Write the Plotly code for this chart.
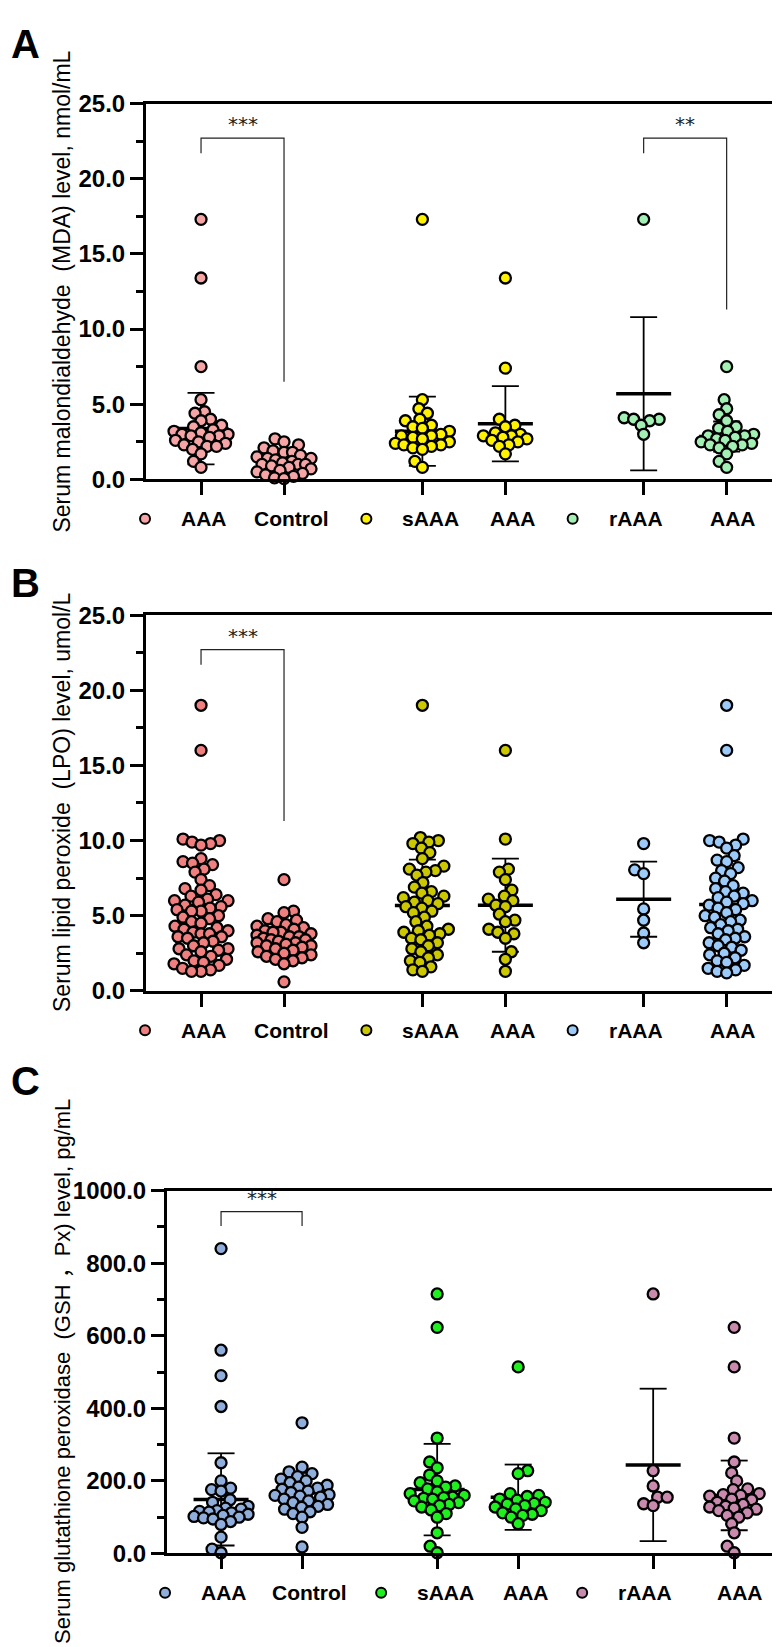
import math
import plotly.graph_objects as go

W, H = 780, 1647

# ---------------- data ----------------
groups = ["AAA", "Control", "sAAA", "AAA", "rAAA", "AAA"]

A_AAA = [17.3, 13.4, 7.5, 5.3, 4.5, 4.4, 4.0, 3.9, 3.6, 3.5, 3.3, 3.2, 3.1, 3.0, 3.0,
         2.9, 2.9, 2.8, 2.6, 2.5, 2.4, 2.3, 2.2, 2.2, 2.0, 1.7, 1.2, 0.8]
A_Control = [2.7, 2.5, 2.3, 2.1, 1.9, 1.8, 1.8, 1.6, 1.5, 1.4, 1.4, 1.3, 1.2, 1.1, 1.0,
             1.0, 1.0, 0.9, 0.8, 0.7, 0.6, 0.5, 0.4, 0.3, 0.2, 0.1, 0.05]
A_sAAA = [17.3, 5.3, 4.7, 4.4, 4.0, 3.9, 3.6, 3.5, 3.4, 3.2, 3.0, 2.9, 2.9, 2.8, 2.7,
          2.5, 2.4, 2.3, 2.3, 2.2, 2.1, 2.0, 1.2, 0.8]
A_sAAA_ref = [13.4, 7.4, 4.0, 3.6, 3.5, 3.1, 3.0, 2.9, 2.9, 2.8, 2.7, 2.6, 2.5, 2.3, 2.2, 1.7]
A_rAAA = [17.3, 4.1, 4.0, 4.0, 3.9, 3.6, 3.0]
A_rAAA_ref = [7.5, 5.3, 4.7, 4.3, 3.9, 3.5, 3.4, 3.2, 3.0, 2.9, 2.9, 2.8, 2.7, 2.6, 2.5,
              2.4, 2.3, 2.3, 2.2, 2.1, 1.7, 1.2, 0.8]
A_means = [3.38, 1.1, 3.2, 3.7, 5.7, 2.85]
A_sds = [2.38, 0.75, 2.3, 2.5, 5.1, 1.0]

B_AAA = [19.0, 16.0, 10.1, 10.0, 9.9, 9.8, 9.7, 8.8, 8.6, 8.5, 8.4, 8.1, 7.9, 7.4, 7.0,
         6.8, 6.7, 6.4, 6.3, 6.1, 6.0, 6.0, 5.9, 5.7, 5.6, 5.5, 5.4, 5.3, 5.3, 5.0, 4.9,
         4.8, 4.6, 4.5, 4.3, 4.2, 4.1, 4.0, 3.9, 3.8, 3.8, 3.6, 3.6, 3.5, 3.3, 3.2, 3.0,
         2.8, 2.8, 2.7, 2.6, 2.4, 2.3, 2.1, 2.0, 1.9, 1.8, 1.7, 1.5, 1.4, 1.3, 1.3]
B_Control = [7.4, 5.3, 5.2, 4.8, 4.7, 4.6, 4.4, 4.3, 4.2, 4.1, 4.0, 3.9, 3.9, 3.8, 3.7,
             3.6, 3.6, 3.5, 3.4, 3.4, 3.3, 3.2, 3.2, 3.1, 3.0, 3.0, 2.9, 2.8, 2.7, 2.6,
             2.5, 2.4, 2.3, 2.2, 2.1, 2.0, 1.8, 0.6]
B_sAAA = [19.0, 10.2, 10.0, 9.9, 9.8, 9.5, 9.2, 8.8, 8.3, 8.1, 8.0, 7.9, 7.7, 7.2, 6.9,
          6.6, 6.5, 6.3, 6.2, 6.0, 5.9, 5.8, 5.6, 5.5, 5.3, 5.2, 4.9, 4.6, 4.3, 4.1, 4.0,
          3.9, 3.8, 3.7, 3.5, 3.4, 3.2, 3.0, 2.8, 2.6, 2.4, 2.2, 2.0, 1.9, 1.6, 1.4, 1.3]
B_sAAA_ref = [16.0, 10.1, 8.1, 7.9, 7.4, 6.7, 6.3, 6.1, 6.0, 5.7, 5.6, 5.1, 4.7, 4.6, 4.1,
              3.9, 3.8, 3.5, 2.6, 2.1, 1.3]
B_rAAA = [9.8, 8.05, 7.8, 5.45, 4.7, 3.85, 3.2]
B_rAAA_ref = [19.0, 16.0, 10.1, 10.0, 9.9, 9.7, 9.5, 9.0, 8.7, 8.6, 8.2, 8.0, 7.8, 7.5,
              7.3, 7.0, 6.8, 6.6, 6.5, 6.3, 6.2, 6.0, 5.9, 5.8, 5.7, 5.5, 5.4, 5.2, 5.0,
              4.9, 4.7, 4.6, 4.4, 4.2, 4.1, 4.0, 3.8, 3.6, 3.5, 3.4, 3.2, 3.0, 2.9, 2.7,
              2.5, 2.4, 2.2, 2.0, 1.9, 1.7, 1.5, 1.4, 1.3, 1.2]
B_means = [5.68, 3.3, 5.68, 5.7, 6.1, 5.75]
B_sds = [2.6, 1.1, 3.05, 3.1, 2.5, 3.0]

C_AAA = [840, 560, 490, 405, 250, 200, 180, 176, 172, 148, 141, 130, 125, 122, 118, 116,
         114, 112, 108, 105, 102, 100, 98, 95, 88, 80, 45, 12, 2]
C_Control = [360, 238, 225, 220, 212, 205, 200, 195, 188, 183, 180, 177, 172, 168, 162,
             160, 158, 155, 150, 145, 140, 135, 130, 127, 122, 115, 110, 100, 72, 18]
C_sAAA = [715, 623, 318, 252, 236, 216, 200, 195, 186, 183, 178, 170, 165, 160, 155, 154,
          152, 150, 145, 140, 135, 132, 128, 120, 110, 100, 57, 20, 2]
C_sAAA_ref = [514, 228, 220, 165, 160, 157, 150, 147, 141, 138, 136, 132, 128, 123, 118,
              112, 108, 105, 100, 82]
C_rAAA = [715, 228, 186, 155, 155, 137, 132]
C_rAAA_ref = [623, 514, 318, 252, 222, 200, 178, 176, 165, 162, 160, 158, 150, 148, 141,
              135, 130, 128, 125, 122, 118, 112, 105, 100, 82, 57, 20, 2]
C_means = [149, 167, 176, 155, 244, 160]
C_sds = [127, 55, 126, 90, 210, 96]

# significance brackets: (group i, group j, top, left foot, right foot, label)
A_sig = [(0, 1, 22.7, 21.7, 6.5, "***"), (4, 5, 22.7, 21.7, 11.3, "**")]
B_sig = [(0, 1, 22.7, 21.7, 11.3, "***")]
C_sig = [(0, 1, 942, 902, 902, "***")]

titles = ["Serum malondialdehyde  (MDA) level, nmol/mL",
          "Serum lipid peroxide  (LPO) level, umol/L",
          "Serum glutathione peroxidase  (GSH ，Px) level, pg/mL"]
y_ticks = [[0, 5, 10, 15, 20, 25], [0, 5, 10, 15, 20, 25], [0, 200, 400, 600, 800, 1000]]

# ---------------- layout constants ----------------
POS = [0, 1, 2.667, 3.667, 5.333, 6.333]
panels = [
    dict(letter="A", data=[A_AAA, A_Control, A_sAAA, A_sAAA_ref, A_rAAA, A_rAAA_ref],
         means=A_means, sds=A_sds, sig=A_sig, title=titles[0], ticks=y_ticks[0],
         colors=["#F5A5A5", "#F5A5A5", "#FFF200", "#FFF200", "#A3F0B5", "#A3F0B5"],
         left=138, right=775, top=83, bottom=465, xr=[-0.663, 7.012], yr=[0, 25],
         minor=2.5, letter_y=22, title_size=23),
    dict(letter="B", data=[B_AAA, B_Control, B_sAAA, B_sAAA_ref, B_rAAA, B_rAAA_ref],
         means=B_means, sds=B_sds, sig=B_sig, title=titles[1], ticks=y_ticks[1],
         colors=["#F08080", "#F08080", "#CCC800", "#CCC800", "#9CCBFA", "#9CCBFA"],
         left=138, right=775, top=603, bottom=985, xr=[-0.663, 7.012], yr=[0, 25],
         minor=2.5, letter_y=570, title_size=23),
    dict(letter="C", data=[C_AAA, C_Control, C_sAAA, C_sAAA_ref, C_rAAA, C_rAAA_ref],
         means=C_means, sds=C_sds, sig=C_sig, title=titles[2], ticks=y_ticks[2],
         colors=["#8FAEDC", "#8FAEDC", "#1EF01E", "#1EF01E", "#C98AAE", "#C98AAE"],
         left=159, right=777, top=1188, bottom=1557, xr=[-0.667, 6.96], yr=[0, 1000],
         minor=100, letter_y=1077, title_size=22),
]
LABEL_SHIFT = [3, 7, 8, 8, -8, 6]
LEGEND_SHIFT = [(0, -56), (2, -56), (4, -71)]


def xp(px):
    return px / W


def yp(py):
    return 1 - py / H


def beeswarm(vals, px_per_y, min_dist=9.5, maxw=27.0):
    """Pixel offsets for a capped beeswarm; overlap is allowed once the cap is hit."""
    order = sorted(range(len(vals)), key=lambda i: vals[i])
    placed = []
    xs = [0.0] * len(vals)
    grid = [k * 0.5 for k in range(int(-2 * maxw), int(2 * maxw) + 1)]
    for k, i in enumerate(order):
        y = vals[i] * px_per_y
        near = [(xj, yj) for (xj, yj) in placed if abs(y - yj) < min_dist]
        sgn = 1 if k % 2 else -1

        def mind(c):
            if not near:
                return 1e9
            return min(math.hypot(c - xj, y - yj) for (xj, yj) in near)

        ok = [c for c in grid if mind(c) >= min_dist]
        if ok:
            best = min(ok, key=lambda c: (abs(c), sgn * c))
        else:
            best = max(grid, key=lambda c: (round(mind(c), 3), -abs(c)))
        xs[i] = best
        placed.append((best, y))
    return xs


fig = go.Figure()
layout = dict(width=W, height=H, margin=dict(l=0, r=0, t=0, b=0),
              paper_bgcolor="white", plot_bgcolor="white", showlegend=False)
annotations = []
shapes = []

for n, p in enumerate(panels):
    sfx = "" if n == 0 else str(n + 1)
    xa, ya = "x" + sfx, "y" + sfx
    unit = (p["right"] - p["left"]) / (p["xr"][1] - p["xr"][0])
    pxy = (p["bottom"] - p["top"]) / (p["yr"][1] - p["yr"][0])

    layout["xaxis" + sfx] = dict(
        domain=[xp(p["left"]), xp(p["right"])], range=p["xr"], anchor=ya,
        tickvals=POS, showticklabels=False, ticks="outside", ticklen=13, tickwidth=3,
        tickcolor="black", showline=True, linewidth=3, linecolor="black", mirror=True,
        showgrid=False, zeroline=False, fixedrange=True)
    layout["yaxis" + sfx] = dict(
        domain=[yp(p["bottom"]), yp(p["top"])], range=p["yr"], anchor=xa,
        tickvals=p["ticks"], tickformat=".1f", ticks="outside", ticklen=13, tickwidth=3,
        tickcolor="black", showline=True, linewidth=3, linecolor="black", mirror=True,
        showgrid=False, zeroline=False, fixedrange=True,
        tickfont=dict(family="Liberation Sans", size=24, color="black", weight="bold"),
        minor=dict(dtick=p["minor"], ticks="outside", ticklen=7, tickwidth=2.5,
                   tickcolor="black", showgrid=False))

    # error bars (mean +- SD), drawn under the dots
    mx, my, sx, sy = [], [], [], []
    hw_m, hw_c = 27.5 / unit, 13.5 / unit
    for g in range(6):
        m, s, x0 = p["means"][g], p["sds"][g], POS[g]
        mx += [x0 - hw_m, x0 + hw_m, None]
        my += [m, m, None]
        lo, hi = max(m - s, 0), m + s
        sx += [x0, x0, None, x0 - hw_c, x0 + hw_c, None, x0 - hw_c, x0 + hw_c, None]
        sy += [lo, hi, None, hi, hi, None, lo, lo, None]
    fig.add_trace(go.Scatter(x=sx, y=sy, mode="lines", xaxis=xa, yaxis=ya,
                             line=dict(color="black", width=1.8), hoverinfo="skip",
                             cliponaxis=False))
    fig.add_trace(go.Scatter(x=mx, y=my, mode="lines", xaxis=xa, yaxis=ya,
                             line=dict(color="black", width=3.5), hoverinfo="skip",
                             cliponaxis=False))

    # dots
    for g in range(6):
        vals = p["data"][g]
        offs = beeswarm(vals, pxy)
        fig.add_trace(go.Scatter(
            x=[POS[g] + o / unit for o in offs], y=vals, mode="markers",
            xaxis=xa, yaxis=ya, cliponaxis=False, name=groups[g],
            marker=dict(size=11, color=p["colors"][g], line=dict(color="black", width=2.3))))

    # significance brackets
    for (i, j, top, f1, f2, lab) in p["sig"]:
        shapes.append(dict(type="path", xref=xa, yref=ya,
                           path=f"M {POS[i]},{f1} L {POS[i]},{top} L {POS[j]},{top} L {POS[j]},{f2}",
                           line=dict(color="#222222", width=1.2)))
        annotations.append(dict(x=(POS[i] + POS[j]) / 2, y=top, xref=xa, yref=ya,
                                text=lab, showarrow=False, yanchor="bottom", yshift=0,
                                font=dict(family="DejaVu Sans", size=20, color="#222222")))

    # label row under the axis
    ly = yp(p["bottom"] + 40)
    for g in range(6):
        annotations.append(dict(x=POS[g], y=ly, xref=xa, yref="paper", text=groups[g],
                                showarrow=False, xshift=LABEL_SHIFT[g], yanchor="middle",
                                font=dict(family="Liberation Sans", size=21, color="black",
                                          weight="bold")))
    for (g, off) in LEGEND_SHIFT:
        cx = xp(p["left"] + (POS[g] - p["xr"][0]) * unit + off)
        shapes.append(dict(type="circle", xref="paper", xsizemode="pixel", xanchor=cx,
                           x0=-5, x1=5, yref="paper", ysizemode="pixel",
                           yanchor=ly, y0=-5, y1=5, fillcolor=p["colors"][g],
                           line=dict(color="black", width=2)))

    # y title
    annotations.append(dict(x=xp(54), y=yp((p["top"] + p["bottom"]) / 2), xref="paper",
                            yref="paper", text=p["title"], textangle=-90, showarrow=False,
                            xanchor="center", yanchor="middle",
                            font=dict(family="Liberation Sans, Noto Sans CJK SC",
                                      size=p["title_size"], color="black")))
    # panel letter
    annotations.append(dict(x=xp(1), y=yp(p["letter_y"]), xref="paper", yref="paper",
                            text=p["letter"], showarrow=False, xanchor="left",
                            yanchor="middle",
                            font=dict(family="Liberation Sans", size=40, color="black",
                                      weight="bold")))

layout["annotations"] = annotations
layout["shapes"] = shapes
fig.update_layout(**layout)
fig.write_html("out.html")
